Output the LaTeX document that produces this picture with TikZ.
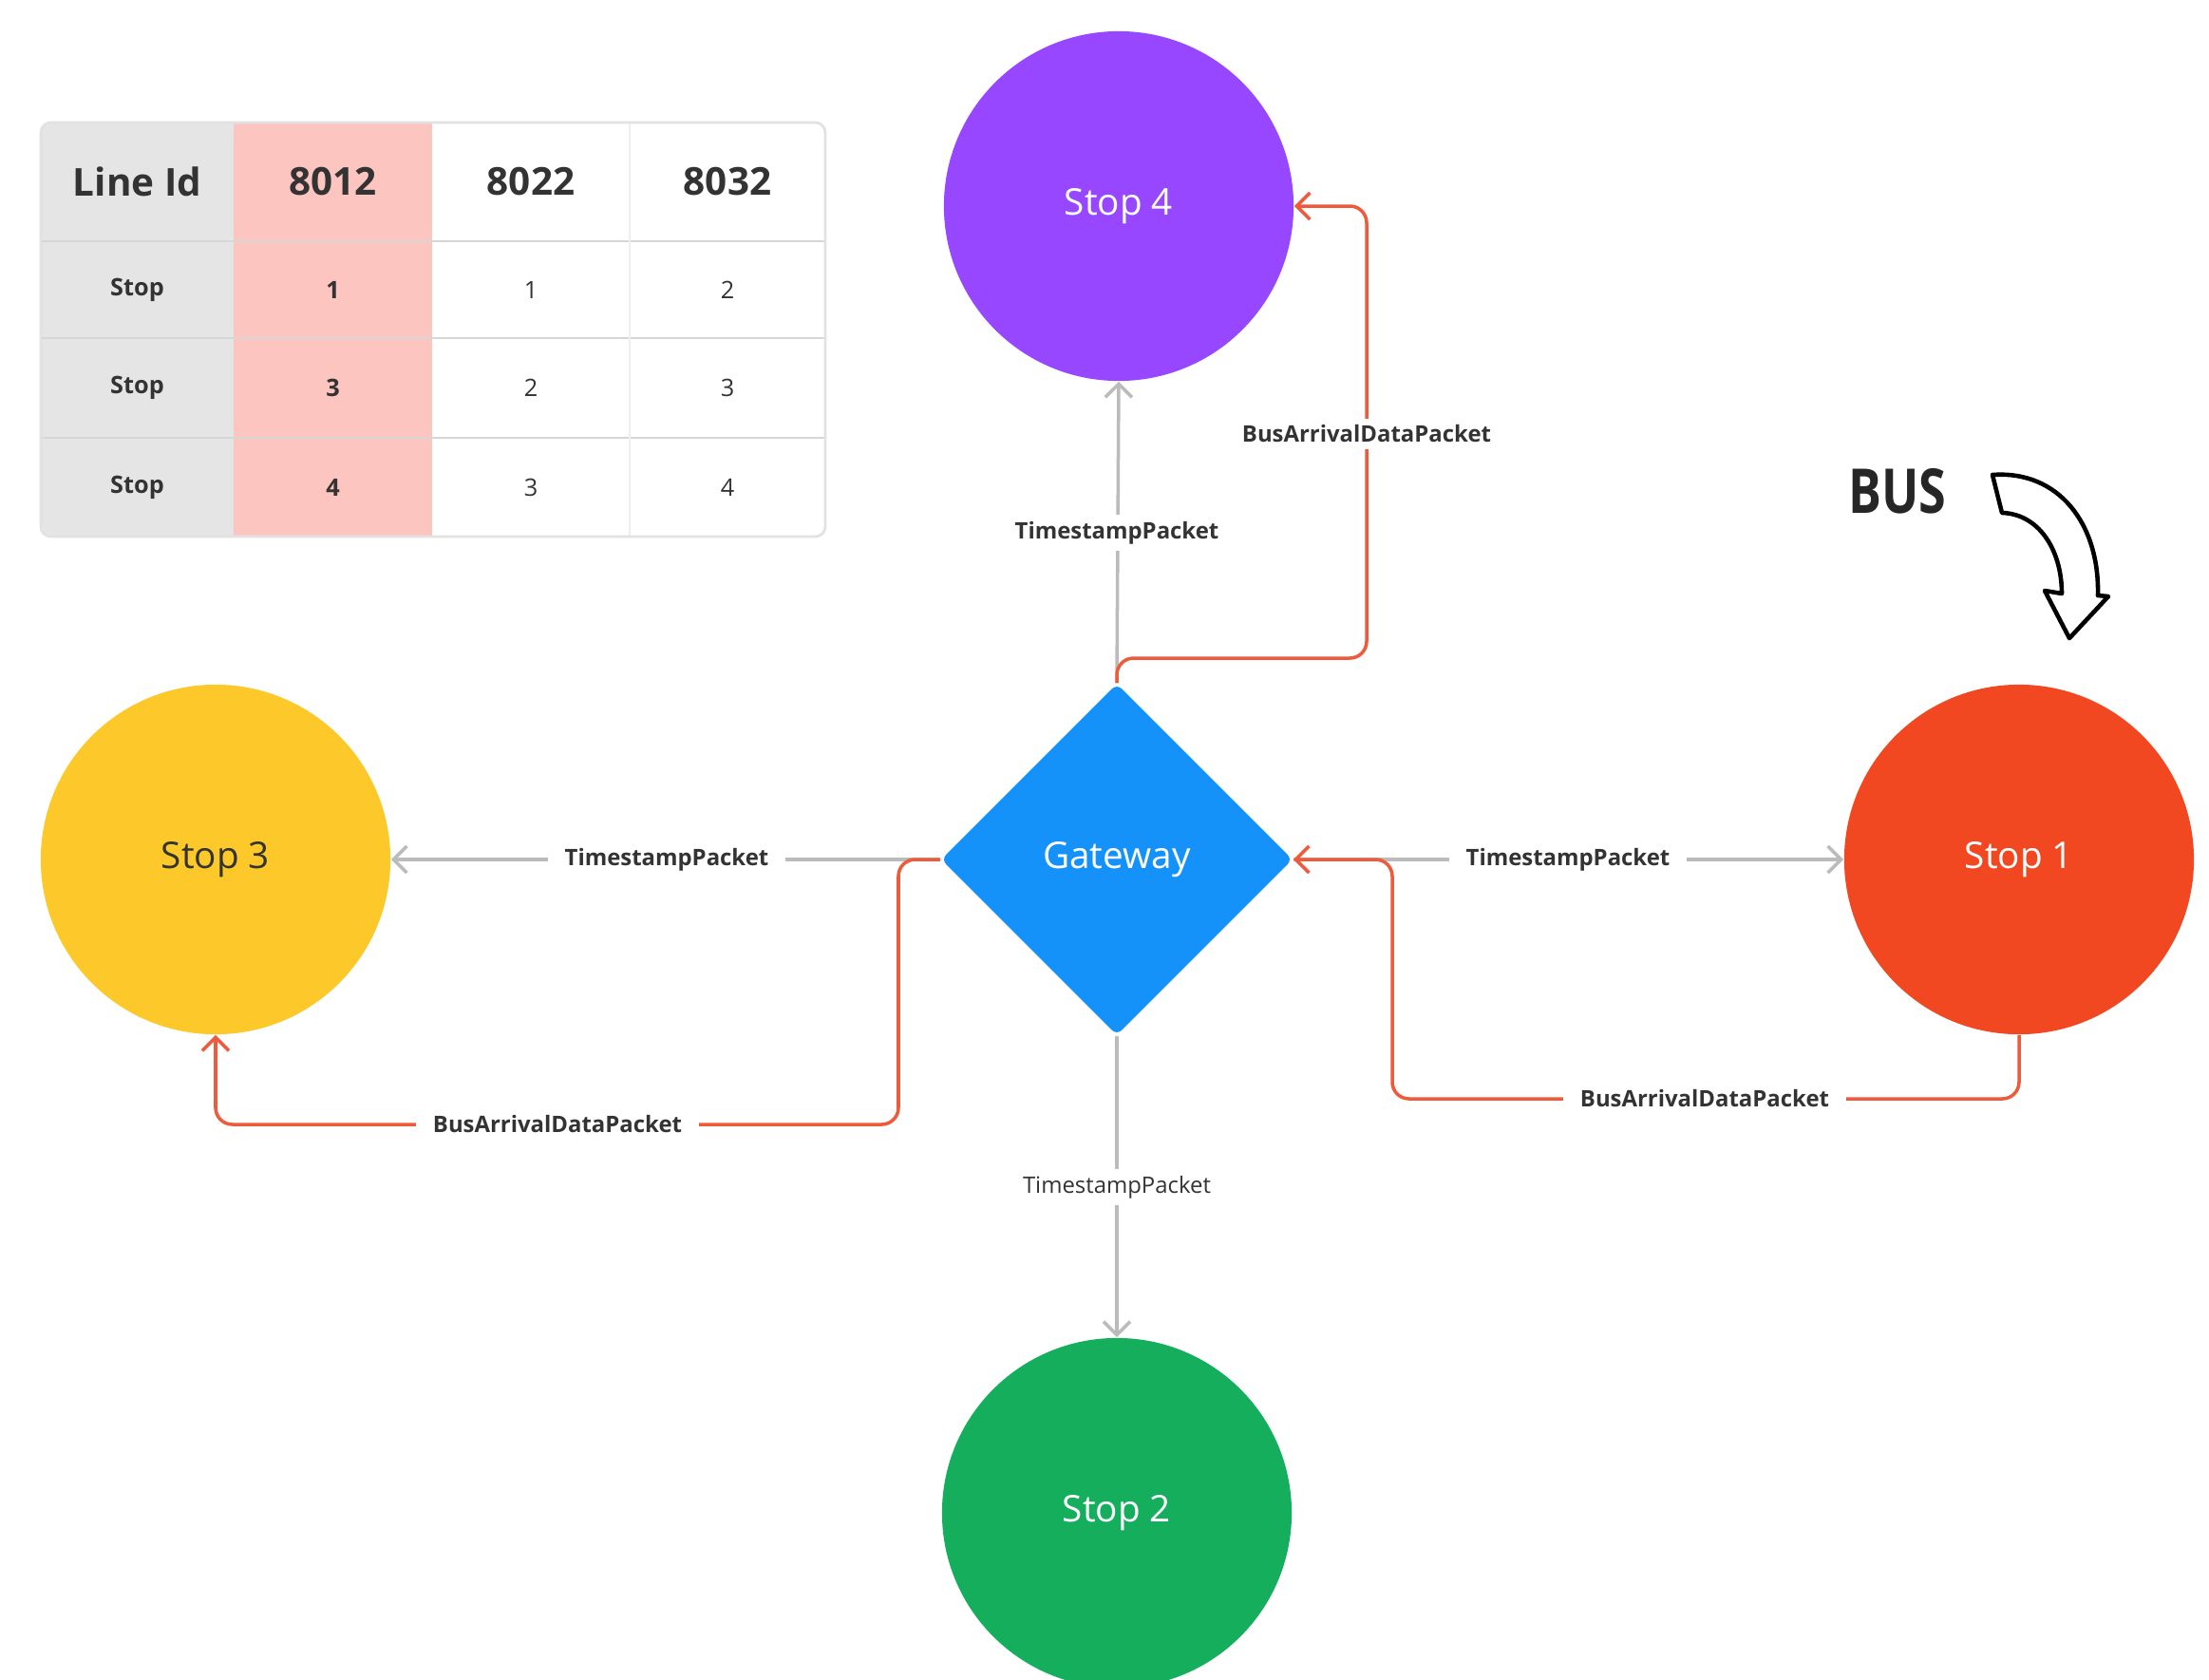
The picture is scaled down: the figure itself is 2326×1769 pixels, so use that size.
\documentclass[tikz,border=0pt]{standalone}
\usepackage{fontspec}
\setmainfont{Open Sans}
\newfontfamily\busfont[FakeStretch=0.8]{Open Sans}
\usetikzlibrary{shapes.geometric,arrows.meta}
\definecolor{purp}{HTML}{9747FF}
\definecolor{gwblue}{HTML}{1592FA}
\definecolor{yel}{HTML}{FCC82A}
\definecolor{ored}{HTML}{F24822}
\definecolor{grn}{HTML}{14AE5C}
\definecolor{redln}{HTML}{EE5A3C}
\definecolor{grayln}{HTML}{BBBBBB}
\definecolor{pinkc}{HTML}{FCC5C0}
\definecolor{grayc}{HTML}{E5E5E5}
\definecolor{txt}{HTML}{333333}
\definecolor{tline}{HTML}{D6D6D6}
\definecolor{tborder}{HTML}{E2E2E2}
\tikzset{
  stopnode/.style={circle, minimum size=3.68cm, inner sep=0pt, text=white,
    font=\fontsize{11}{13}\selectfont},
  gline/.style={draw=grayln, line width=1pt, -{Straight Barb[length=4pt,width=8pt]}},
  rline/.style={draw=redln, line width=1pt, rounded corners=5pt, -{Straight Barb[length=4pt,width=8pt]}},
  lbl/.style={fill=white, inner xsep=5pt, inner ysep=2pt, text=txt,
    font=\fontsize{6.8}{8}\selectfont\bfseries},
  hdr/.style={text=txt, font=\fontsize{11.5}{13}\selectfont\bfseries},
  cell/.style={text=txt, font=\fontsize{7.2}{9}\selectfont},
  cellb/.style={text=txt, font=\fontsize{7.2}{9}\selectfont\bfseries},
}
\begin{document}
\begin{tikzpicture}[x=0.01cm,y=-0.01cm]
\useasboundingbox (0,0) rectangle (2326,1769);
\fill[white] (0,0) rectangle (2326,1769);

% ---- table ----
\begin{scope}
\clip[rounded corners=3pt] (43,129) rectangle (869,565);
\fill[grayc] (43,129) rectangle (246,565);
\fill[pinkc] (246,129) rectangle (455,565);
\draw[tline, line width=0.8pt] (43,254) -- (869,254);
\draw[tline, line width=0.6pt] (43,356) -- (869,356);
\draw[tline, line width=0.6pt] (43,461) -- (869,461);
\draw[tborder!60, line width=0.5pt] (663,129) -- (663,565);
\end{scope}
\draw[tborder, line width=0.8pt, rounded corners=3pt] (43,129) rectangle (869,565);

\node[hdr] (h0) at (144.5,191.5) {Line Id};
\node[hdr] (h1) at (350.5,191.5) {8012};
\node[hdr] (h2) at (559,191.5) {8022};
\node[hdr] (h3) at (766,191.5) {8032};

\node[cellb] (r1c0) at (144.5,305) {Stop};
\node[cellb] (r1c1) at (350.5,305) {1};
\node[cell]  (r1c2) at (559,305) {1};
\node[cell]  (r1c3) at (766,305) {2};

\node[cellb] (r2c0) at (144.5,408.5) {Stop};
\node[cellb] (r2c1) at (350.5,408.5) {3};
\node[cell]  (r2c2) at (559,408.5) {2};
\node[cell]  (r2c3) at (766,408.5) {3};

\node[cellb] (r3c0) at (144.5,513) {Stop};
\node[cellb] (r3c1) at (350.5,513) {4};
\node[cell]  (r3c2) at (559,513) {3};
\node[cell]  (r3c3) at (766,513) {4};

% ---- main nodes ----
\node[stopnode, fill=purp] (s4) at (1178,217) {Stop 4};
\node[stopnode, fill=yel, text=txt] (s3) at (227,905) {Stop 3};
\node[stopnode, fill=ored] (s1) at (2126,905) {Stop 1};
\node[stopnode, fill=grn] (s2) at (1176,1593) {Stop 2};
\node[diamond, aspect=1, minimum width=3.7cm, minimum height=3.7cm, inner sep=0pt,
  fill=gwblue, rounded corners=2pt, text=white, font=\fontsize{11}{13}\selectfont] (gw) at (1176,905) {Gateway};

% ---- gray connectors ----
\draw[gline] (gw.north) -- (s4.south);
\draw[gline] (gw.west) -- (s3.east);
\draw[gline] (gw.east) -- (s1.west);
\draw[gline] (gw.south) -- (s2.north);

% ---- red connectors ----
\draw[rline] (gw.north) -- (1176,693) -- (1439,693) -- (1439,217) -- (s4.east);
\draw[rline] (s1.south) -- (2126,1157) -- (1466,1157) -- (1466,905) -- (gw.east);
\draw[rline] (gw.west) -- (946,905) -- (946,1184) -- (227,1184) -- (s3.south);

% ---- labels ----
\node[lbl] (lt4) at (1176,561) {TimestampPacket};
\node[lbl] (lt3) at (702,905) {TimestampPacket};
\node[lbl] (lt1) at (1651,905) {TimestampPacket};
\node[lbl, font=\fontsize{6.8}{8}\selectfont] (lt2) at (1176,1250) {TimestampPacket};
\node[lbl] (lb4) at (1439,457) {BusArrivalDataPacket};
\node[lbl] (lb1) at (1795,1157) {BusArrivalDataPacket};
\node[lbl] (lb3) at (587,1184) {BusArrivalDataPacket};

% ---- BUS ----
\node[text=black!85, font=\busfont\bfseries\fontsize{18.5}{22}\selectfont] (bus) at (1998,517) {BUS};
\draw[black, line width=1.3pt, fill=white, line join=round]
  (2098,500) .. controls (2168,495) and (2211,552) .. (2209,627)
  -- (2220,628) -- (2179,672) -- (2153,622) -- (2171,625)
  .. controls (2171,578) and (2146,541) .. (2108,540) -- cycle;
\end{tikzpicture}
\end{document}
